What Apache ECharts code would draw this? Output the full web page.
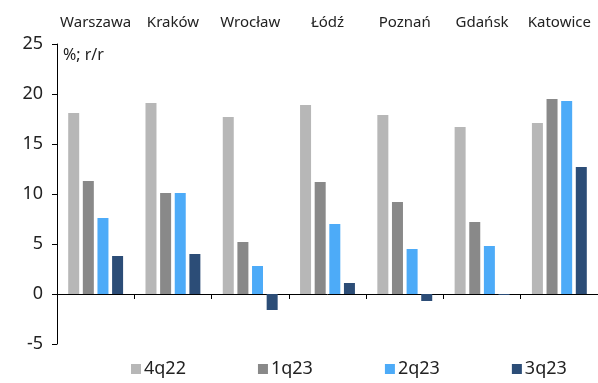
<!DOCTYPE html>
<html>
<head>
<meta charset="utf-8">
<script src="https://cdn.jsdelivr.net/npm/echarts@6/dist/echarts.min.js"></script>
<style>
  html, body { margin: 0; padding: 0; background: #fff; }
  #chart { width: 598px; height: 383px; }
</style>
</head>
<body>
<div id="chart"></div>
<script>
// Cities and quarterly year-on-year changes (%)
const cities = ['Warszawa', 'Kraków', 'Wrocław', 'Łódź', 'Poznań', 'Gdańsk', 'Katowice'];
const q4_22 = [18.1, 19.1, 17.7, 18.9, 17.9, 16.7, 17.1];
const q1_23 = [11.3, 10.1, 5.2, 11.2, 9.2, 7.2, 19.5];
const q2_23 = [7.6, 10.1, 2.8, 7.0, 4.5, 4.8, 19.3];
const q3_23 = [3.8, 4.0, -1.6, 1.1, -0.7, -0.1, 12.7];
const seriesNames = ['4q22', '1q23', '2q23', '3q23'];
const seriesColors = ['#b7b7b7', '#898989', '#4dabf8', '#2c4d77'];

const FONT = '"Noto Sans", "Open Sans", sans-serif';
const chart = echarts.init(document.getElementById('chart'));

const seriesData = [q4_22, q1_23, q2_23, q3_23];

chart.setOption({
  animation: false,
  grid: { left: 57, right: -3, top: 44, bottom: 39, containLabel: false },
  graphic: [{
    type: 'text', left: 63, top: 47,
    style: { text: '%; r/r', font: '16px ' + FONT, fill: '#222' }
  }],
  legend: {
    bottom: 0, left: 126,
    itemWidth: 10, itemHeight: 10, itemGap: 72,
    icon: 'rect',
    textStyle: { fontSize: 18, fontFamily: FONT, color: '#222', padding: [0, 0, 0, -2] },
    data: seriesNames
  },
  xAxis: [{
    type: 'category', data: cities,
    axisLine: { onZero: true, lineStyle: { color: '#000', width: 1 } },
    axisTick: { show: true, length: 5, lineStyle: { color: '#000' } },
    axisLabel: { show: false }
  }, {
    type: 'category', data: cities, position: 'top',
    axisLine: { show: false }, axisTick: { show: false },
    axisLabel: { interval: 0, fontSize: 15, fontFamily: FONT, color: '#222', margin: 14 }
  }],
  yAxis: {
    type: 'value', min: -5, max: 25, interval: 5,
    splitLine: { show: false },
    axisLine: { show: true, lineStyle: { color: '#000', width: 1 } },
    axisTick: { show: true, length: 5, lineStyle: { color: '#000' } },
    axisLabel: { fontSize: 18, fontFamily: FONT, color: '#222', margin: 14 }
  },
  series: seriesNames.map((name, i) => ({
    name, type: 'bar', xAxisIndex: 0,
    data: seriesData[i],
    barWidth: 11, barGap: '33%',
    itemStyle: { color: seriesColors[i] }
  }))
});
</script>
</body>
</html>
